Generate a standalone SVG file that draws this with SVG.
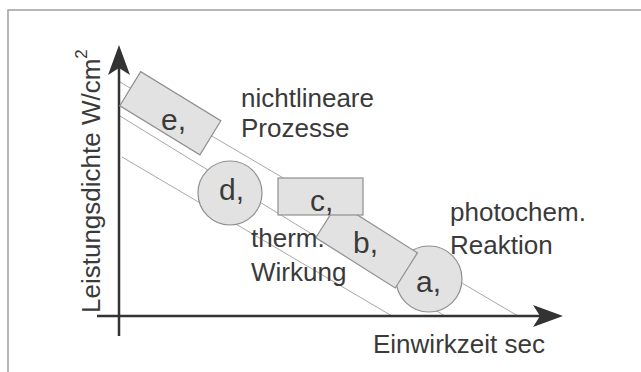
<svg xmlns="http://www.w3.org/2000/svg" width="641" height="372" viewBox="0 0 641 372">
<defs>
<style>
.frame{fill:none;stroke:#a0a0a0;stroke-width:1.5}
.axis{fill:none;stroke:#333;stroke-width:2.5}
.band{fill:none;stroke:#a8a8a8;stroke-width:1}
.shape{fill:#e2e2e2;stroke:#8f8f8f;stroke-width:1.2}
text{font-family:"Liberation Sans",Arial,sans-serif;fill:#3a3a3a}
.lbl{font-size:26px}
.key{font-size:30px}
</style>
<marker id="arr" markerUnits="userSpaceOnUse" viewBox="0 0 30 22" markerWidth="30" markerHeight="22" refX="22" refY="11" orient="auto">
<path d="M0,0 L30,11 L0,22 L7,11 Z" fill="#333"/>
</marker>
</defs>
<rect width="641" height="372" fill="#fff"/>
<path class="frame" d="M8,372 V10 H641"/>
<g id="connectors">
<path class="band" d="M120,82 L518,316"/>
<path class="band" d="M120,116 L445,316"/>
<path class="band" d="M122,157 L392,316"/>
</g>
<g id="axes">
<path class="axis" d="M97,316 H555" marker-end="url(#arr)"/>
<path class="axis" d="M119,336 V53" marker-end="url(#arr)"/>
<text class="lbl" x="373" y="353">Einwirkzeit sec</text>
<text class="lbl" transform="translate(100,313) rotate(-90)">Leistungsdichte W/cm<tspan font-size="17" dy="-13">2</tspan></text>
</g>
<g id="node-e">
<rect class="shape" x="-47" y="-20" width="94" height="40" transform="translate(170.3,113.2) rotate(31.5)"/>
<text class="key" x="161" y="130">e,</text>
</g>
<g id="node-d">
<circle class="shape" cx="230" cy="193" r="32"/>
<text class="key" x="219" y="200">d,</text>
</g>
<g id="node-a">
<circle class="shape" cx="429" cy="279" r="33"/>
</g>
<g id="node-b">
<rect class="shape" x="-47" y="-20.75" width="94" height="41.5" transform="translate(366.6,245.3) rotate(32.3)"/>
<text class="key" x="353" y="253">b,</text>
</g>
<g id="node-a-label">
<text class="key" x="416" y="292">a,</text>
</g>
<g id="node-c">
<rect class="shape" x="278" y="178" width="85" height="37"/>
<text class="key" x="310" y="211">c,</text>
</g>
<g id="label-nichtlinear">
<text class="lbl" x="241" y="107">nichtlineare</text>
<text class="lbl" x="241" y="137">Prozesse</text>
</g>
<g id="label-therm">
<text class="lbl" x="251" y="247">therm.</text>
<text class="lbl" x="251" y="281">Wirkung</text>
</g>
<g id="label-photochem">
<text class="lbl" x="450" y="221">photochem.</text>
<text class="lbl" x="450" y="254">Reaktion</text>
</g>
</svg>
